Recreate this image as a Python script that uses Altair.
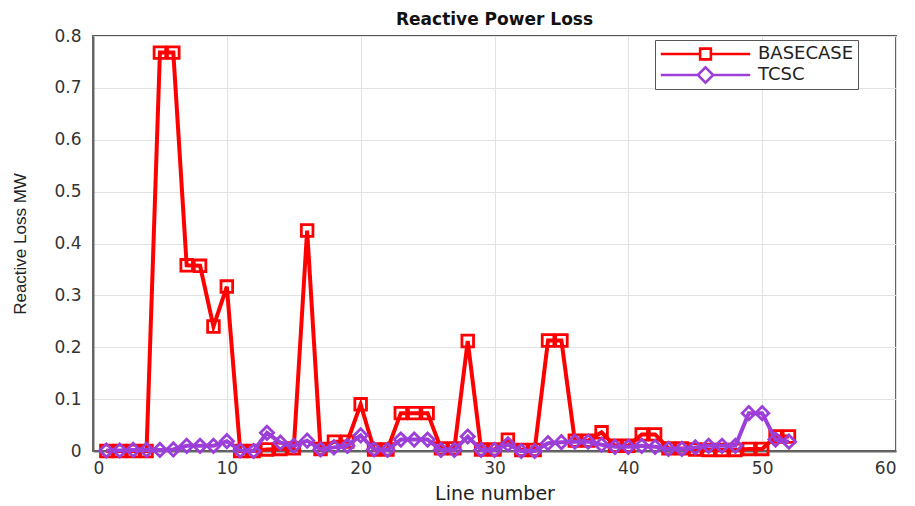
import altair as alt
import pandas as pd

line_no = list(range(1, 53))
basecase = [0.0, 0.0, 0.0, 0.0, 0.768, 0.768, 0.358, 0.357, 0.24, 0.317,
            0.0, 0.0, 0.003, 0.004, 0.005, 0.425, 0.004, 0.018, 0.018, 0.09,
            0.003, 0.003, 0.073, 0.073, 0.073, 0.005, 0.005, 0.212, 0.003, 0.003,
            0.022, 0.002, 0.002, 0.213, 0.213, 0.02, 0.02, 0.036, 0.01, 0.01,
            0.032, 0.032, 0.005, 0.005, 0.003, 0.002, 0.002, 0.002, 0.004, 0.004,
            0.028, 0.028]
tcsc = [0.001, 0.001, 0.002, 0.002, 0.002, 0.003, 0.01, 0.01, 0.01, 0.019,
        0.001, 0.0, 0.035, 0.016, 0.01, 0.02, 0.003, 0.007, 0.01, 0.03,
        0.003, 0.002, 0.022, 0.022, 0.022, 0.002, 0.002, 0.028, 0.002, 0.002,
        0.013, 0.0, 0.0, 0.015, 0.017, 0.018, 0.018, 0.012, 0.008, 0.008,
        0.01, 0.008, 0.004, 0.004, 0.007, 0.01, 0.01, 0.01, 0.073, 0.073,
        0.022, 0.018]
series_names = ["BASECASE", "TCSC"]
series_colors = ["#ff0000", "#9b3fd8"]
marker_sizes = {"BASECASE": 135, "TCSC": 175}

rows = []
for i, n in enumerate(line_no):
    rows.append({"line": n, "loss": basecase[i], "series": "BASECASE"})
    rows.append({"line": n, "loss": tcsc[i], "series": "TCSC"})
df = pd.DataFrame(rows)

sq_path = "M-1,0H-0.12M0.12,0H1M-0.12,-0.12H0.12V0.12H-0.12Z"
dm_path = "M-1,0H-0.17M0.17,0H1M-0.17,0L0,-0.17L0.17,0L0,0.17Z"

legend = alt.Legend(
    title=None, orient="none", legendX=562, legendY=4,
    symbolSize=8000, symbolStrokeWidth=2.6, symbolFillColor="transparent",
    symbolOpacity=1, clipHeight=20, labelFontSize=18, labelFont="DejaVu Sans",
    labelColor="#222", strokeColor="#555", fillColor="white", padding=4,
    rowPadding=1, labelOffset=6,
)
cscale = alt.Scale(domain=series_names, range=series_colors)
color = alt.Color("series:N", scale=cscale, legend=legend)

x = alt.X("line:Q", scale=alt.Scale(domain=[0, 60], nice=False),
          axis=alt.Axis(values=[0, 10, 20, 30, 40, 50, 60], title="Line number", format="d"))
y = alt.Y("loss:Q", scale=alt.Scale(domain=[0, 0.8], nice=False),
          axis=alt.Axis(values=[0, 0.1, 0.2, 0.3, 0.4, 0.5, 0.6, 0.7, 0.8],
                        title="Reactive Loss MW", format="~g"))

base = alt.Chart(df)


def series_layers(name, shape):
    sub = base.transform_filter(alt.datum.series == name)
    ln = sub.mark_line(strokeWidth=4).encode(x=x, y=y, color=color, order="line:Q")
    pt = sub.mark_point(filled=False, strokeWidth=2.8, size=marker_sizes[name], opacity=1,
                        shape=shape).encode(x=x, y=y, color=color)
    return [ln, pt]


legend_layer = base.transform_filter("false").mark_point(
    filled=False, strokeWidth=2.5, opacity=1).encode(
    x=x, y=y, color=color,
    shape=alt.Shape("series:N", scale=alt.Scale(domain=series_names, range=[sq_path, dm_path]),
                    legend=legend),
)

layers = series_layers("BASECASE", "square") + series_layers("TCSC", "diamond") + [legend_layer]

chart = alt.layer(*layers).properties(
    width=803, height=415,
    autosize=alt.AutoSizeParams(type="none"),
    padding={"left": 85, "top": 28, "right": 11, "bottom": 55},
    title=alt.Title("Reactive Power Loss", fontSize=17, font="DejaVu Sans",
                    fontWeight="bold", color="#111", offset=-2),
).configure_view(stroke="#555", strokeWidth=1.8).configure_axis(
    labelFont="DejaVu Sans", labelFontSize=17, labelColor="#333",
    titleFont="DejaVu Sans", titleFontSize=19, titleColor="#222", titleFontWeight="normal",
    grid=True, gridColor="#e2e2e2", gridWidth=1, domainColor="#666", domainWidth=2,
    ticks=False,
).configure_axisY(titleFont="Liberation Sans", titleFontSize=17, titlePadding=24,
                  labelPadding=12).configure_axisX(titlePadding=8, labelPadding=9)

chart.save("out.html", embed_options={"renderer": "svg", "actions": False})
